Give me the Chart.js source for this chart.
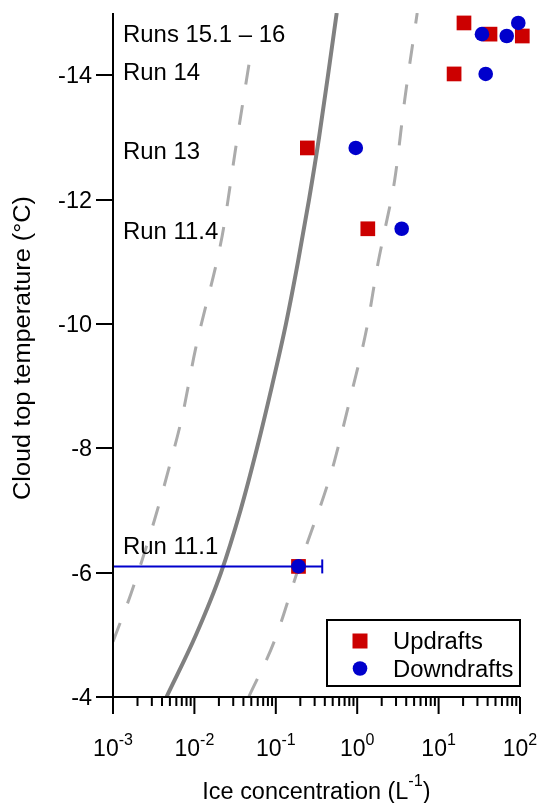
<!DOCTYPE html>
<html>
<head>
<meta charset="utf-8">
<script src="https://cdn.jsdelivr.net/npm/chart.js@4.4.0/dist/chart.umd.min.js"></script>
<style>
  html, body { margin: 0; padding: 0; background: #fff; }
  canvas { display: block; }
</style>
</head>
<body>
<canvas id="chart" width="539" height="803"></canvas>
<script>
// Ice crystal concentration against cloud-top temperature, per flight run

// Run annotations (temperature of each run, degC)
const runNames = ['Run 11.1', 'Run 11.4', 'Run 13', 'Run 14', 'Runs 15.1 \u2013 16'];
const runTemps = [-6.10, -11.50, -12.78, -14.06, -14.67];

// Updraft samples
const updraftTemp = [-6.10, -11.53, -12.83, -14.02, -14.84, -14.66, -14.63];
const updraftIce  = [0.19, 1.35, 0.244, 15.5, 20.5, 42.8, 106.7];

// Downdraft samples
const downdraftTemp = [-6.10, -11.53, -12.83, -14.02, -14.66, -14.63, -14.84];
const downdraftIce  = [0.19, 3.52, 0.96, 37.9, 34.1, 68.7, 95.3];

// Range of the Run 11.1 downdraft value
const rangeTemp = [-6.10, -6.10];
const rangeIce  = [0.001, 0.372];

// Parameterised ice-nuclei curve
const curveTemp = [-4, -5, -6, -7, -8, -9, -10, -11, -12, -13, -14, -15];
const curveIce  = [0.00454, 0.01047, 0.02123, 0.0368, 0.0587, 0.0897, 0.1333, 0.1875, 0.256, 0.340, 0.438, 0.560];

// Lower bound of the curve
const lowerTemp = [-4.89, -5.67, -6.85, -7.82, -8.52, -9.59, -11.26, -11.64, -12.82, -14.45];
const lowerIce  = [0.001, 0.00167, 0.00324, 0.0052, 0.0071, 0.0103, 0.0208, 0.0235, 0.0321, 0.0506];

// Upper bound of the curve
const upperTemp = [-4.0, -4.91, -6.10, -7.58, -7.98, -8.95, -9.91, -10.99, -11.53, -12.33, -13.62, -15.0];
const upperIce  = [0.0465, 0.0968, 0.193, 0.473, 0.573, 0.875, 1.30, 1.81, 2.20, 2.90, 3.85, 5.46];

// Axis ticks
const xTickExponents = [-3, -2, -1, 0, 1, 2];
const yTickValues = [-14, -12, -10, -8, -6, -4];

const pts = (xs, ys) => xs.map((x, i) => ({ x: x, y: ys[i] }));

const RED = '#cc0000';
const BLUE = '#0000cc';
const FONT = '"Liberation Sans", Arial, Helvetica, sans-serif';
const MAJOR = 17;
const MINOR = 9;

// text with an optional horizontal stretch
function drawText(ctx, s, x, y, size, align, sx) {
  ctx.save();
  ctx.font = size + 'px ' + FONT;
  ctx.textAlign = align || 'left';
  ctx.textBaseline = 'alphabetic';
  ctx.fillStyle = '#000';
  ctx.translate(x, y);
  ctx.scale(sx || 1, 1);
  ctx.fillText(s, 0, 0);
  ctx.restore();
}
function widthOf(ctx, s, size, sx) {
  ctx.font = size + 'px ' + FONT;
  return ctx.measureText(s).width * (sx || 1);
}

const framePlugin = {
  id: 'frame',
  afterDraw(chart) {
    const ctx = chart.ctx;
    const a = chart.chartArea;
    const xs = chart.scales.x;
    const ys = chart.scales.y;
    ctx.save();

    // axis lines and tick marks
    ctx.strokeStyle = '#000';
    ctx.lineWidth = 2;
    ctx.beginPath();
    ctx.moveTo(a.left, a.top);
    ctx.lineTo(a.left, a.bottom + MAJOR);
    ctx.moveTo(a.left - MAJOR, a.bottom);
    ctx.lineTo(a.right, a.bottom);
    yTickValues.forEach(v => {
      const p = Math.round(ys.getPixelForValue(v));
      ctx.moveTo(a.left - MAJOR, p);
      ctx.lineTo(a.left, p);
    });
    xTickExponents.forEach((e, i) => {
      const p = xs.getPixelForValue(Math.pow(10, e));
      ctx.moveTo(p, a.bottom);
      ctx.lineTo(p, a.bottom + MAJOR);
      if (i < xTickExponents.length - 1) {
        for (let m = 2; m <= 9; m++) {
          const q = xs.getPixelForValue(m * Math.pow(10, e));
          ctx.moveTo(q, a.bottom);
          ctx.lineTo(q, a.bottom + MINOR);
        }
      }
    });
    ctx.stroke();

    // y tick labels
    yTickValues.forEach(v => {
      const p = ys.getPixelForValue(v);
      drawText(ctx, String(v), a.left - 21, p + 8.2, 23, 'right', 1.02);
    });

    // x tick labels: 10 with superscript exponent
    xTickExponents.forEach(e => {
      const p = xs.getPixelForValue(Math.pow(10, e));
      const sup = String(e);
      const w1 = widthOf(ctx, '10', 23);
      const w2 = widthOf(ctx, sup, 16);
      const left = p - (w1 + w2) / 2;
      drawText(ctx, '10', left, a.bottom + 58.7, 23, 'left');
      drawText(ctx, sup, left + w1, a.bottom + 48, 16, 'left');
    });

    // x axis title
    {
      const sx = 1.02;
      const s1 = 'Ice concentration (L', s2 = '-1', s3 = ')';
      const w1 = widthOf(ctx, s1, 23, sx), w2 = widthOf(ctx, s2, 16, sx), w3 = widthOf(ctx, s3, 23, sx);
      const cx = (a.left + a.right) / 2;
      let x = cx - (w1 + w2 + w3) / 2;
      const base = a.bottom + 102;
      drawText(ctx, s1, x, base, 23, 'left', sx); x += w1;
      drawText(ctx, s2, x, base - 13, 16, 'left', sx); x += w2;
      drawText(ctx, s3, x, base, 23, 'left', sx);
    }

    // y axis title
    ctx.save();
    ctx.translate(22, (a.top + a.bottom) / 2 - 7);
    ctx.rotate(-Math.PI / 2);
    drawText(ctx, 'Cloud top temperature (\u00B0C)', 0, 8.2, 23, 'center', 1.1);
    ctx.restore();

    // run annotations
    runNames.forEach((name, i) => {
      const p = ys.getPixelForValue(runTemps[i]);
      const base = i === 0 ? p - 12 : p + 8.2;
      drawText(ctx, name, a.left + 10, base, 23, 'left', 1.04);
    });

    // legend
    const bx = a.right - 193, by = a.bottom - 77, bw = 193, bh = 66;
    ctx.fillStyle = '#fff';
    ctx.fillRect(bx, by, bw, bh);
    ctx.strokeStyle = '#000';
    ctx.lineWidth = 2;
    ctx.strokeRect(bx, by, bw, bh);
    const mx = bx + 33;
    const r1 = by + 21, r2 = by + 48.5;
    ctx.fillStyle = RED;
    ctx.fillRect(mx - 7.5, r1 - 7.5, 15, 15);
    ctx.fillStyle = BLUE;
    ctx.beginPath();
    ctx.arc(mx, r2, 7.3, 0, Math.PI * 2);
    ctx.fill();
    drawText(ctx, 'Updrafts', bx + 66, r1 + 8.2, 23, 'left', 1.035);
    drawText(ctx, 'Downdrafts', bx + 66, r2 + 8.2, 23, 'left', 1.035);

    ctx.restore();
  }
};

new Chart(document.getElementById('chart'), {
  type: 'scatter',
  data: {
    datasets: [
      {
        label: 'Downdrafts',
        data: pts(downdraftIce, downdraftTemp),
        pointStyle: 'circle',
        pointRadius: 7.3,
        backgroundColor: BLUE,
        borderWidth: 0,
        clip: false,
        order: 0
      },
      {
        label: 'Run 11.1 range',
        data: pts(rangeIce, rangeTemp),
        showLine: true,
        borderColor: BLUE,
        borderWidth: 2,
        pointStyle: 'line',
        rotation: 90,
        pointRadius: 7,
        pointBorderColor: BLUE,
        pointBorderWidth: 2,
        clip: false,
        order: 1
      },
      {
        label: 'Updrafts',
        data: pts(updraftIce, updraftTemp),
        pointStyle: 'rect',
        pointRadius: 10.4,
        backgroundColor: RED,
        borderWidth: 0,
        clip: false,
        order: 2
      },
      {
        label: 'Curve',
        data: pts(curveIce, curveTemp),
        showLine: true,
        borderColor: '#808080',
        borderWidth: 4,
        pointRadius: 0,
        cubicInterpolationMode: 'monotone',
        order: 5
      },
      {
        label: 'Lower',
        data: pts(lowerIce, lowerTemp),
        showLine: true,
        borderColor: '#ababab',
        borderWidth: 3,
        borderDash: [20, 21],
        pointRadius: 0,
        cubicInterpolationMode: 'monotone',
        order: 6
      },
      {
        label: 'Upper',
        data: pts(upperIce, upperTemp),
        showLine: true,
        borderColor: '#ababab',
        borderWidth: 3,
        borderDash: [20, 21],
        pointRadius: 0,
        cubicInterpolationMode: 'monotone',
        order: 6
      }
    ]
  },
  options: {
    responsive: false,
    animation: false,
    events: [],
    devicePixelRatio: 1,
    layout: { padding: { left: 113, right: 19, top: 13, bottom: 106 } },
    plugins: {
      legend: { display: false },
      tooltip: { enabled: false }
    },
    scales: {
      x: { type: 'logarithmic', min: 0.001, max: 100, display: false },
      y: { type: 'linear', min: -15, max: -4, reverse: true, display: false }
    }
  },
  plugins: [framePlugin]
});
</script>
</body>
</html>
